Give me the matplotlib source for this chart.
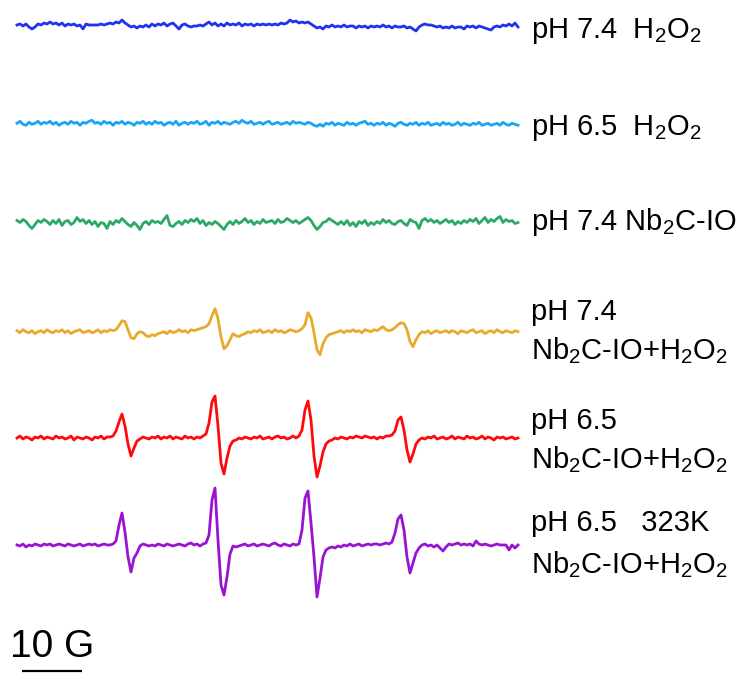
import numpy as np
import matplotlib
matplotlib.use('Agg')
import matplotlib.pyplot as plt

plt.rcParams['font.family'] = ['Liberation Sans', 'DejaVu Sans']
plt.rcParams['mathtext.fontset'] = 'custom'
plt.rcParams['mathtext.rm'] = 'Liberation Sans'
plt.rcParams['mathtext.it'] = 'Liberation Sans:italic'

# magnetic field sweep (G), 0.5 G per point
field = 3470.0 + 0.5 * np.arange(168)

# DMPO spin-trap EPR spectra (a.u.), one list per sample
epr_ph74_h2o2 = [
    0, 1, -1, 1, -2, -4, -2, 1, 0, 2, 1, 3, 1, 2, 0, 2, -1, 1, 0, 1, -1, 0, -4, 1,
    0, 0, 0, 0, 1, 0, 1, 2, 1, 3, 2, 5, 2, 0, -2, -1, -3, -1, -2, 0, -2, 1, -1, 1,
    0, 2, -1, 1, 2, -1, -4, 0, 1, -1, -2, -1, -1, 0, -1, 1, 3, 0, 2, -1, 1, -1, 2, 0,
    1, 0, 2, -1, 1, 0, 1, -1, 1, 0, 1, 0, 1, 0, 1, 0, 2, 1, 2, 5, 3, 4, 2, 3,
    2, 3, 1, -1, -3, -2, -4, -1, -2, 0, -2, -1, -2, 0, -2, -1, -1, -3, -1, -2, -1, -3, -1, -2,
    -1, -2, 0, -2, -1, -3, -1, -2, -2, -1, -3, -2, -4, -6, -2, 0, 1, 0, 0, -1, -2, -1, -3, -2,
    -3, -1, -3, -2, -2, -4, -1, -2, -1, -3, -1, -2, -3, -4, -5, -2, -1, -2, 0, -1, 1, -1, 2, -2,
]
epr_ph65_h2o2 = [
    0, 2, -1, -2, 1, -1, 0, 2, -1, 1, 0, 2, -1, 1, -2, 0, 1, -1, 2, 0, 1, -2, 1, 0,
    2, 3, 0, 1, -1, 2, 0, 1, -2, 1, 0, 2, -1, 1, 0, -2, 1, 0, 2, -1, 1, -1, 2, 0,
    1, -2, 0, 1, -1, 2, -2, 0, 1, -1, 1, 0, 2, -1, 0, 2, -2, 1, 0, 2, -1, 1, 0, -1,
    1, 2, 0, 3, 1, 0, 2, -1, 0, 1, -1, 1, 2, -1, 0, 1, -1, 0, 1, -1, 2, 0, 1, 0,
    -1, 1, 0, -2, -3, -1, -3, 0, -1, 1, -2, 0, -1, -2, 1, -1, 0, -2, 0, 1, 2, -1, 0, -2,
    0, -1, 1, -2, 0, -1, -3, 0, 1, -1, -2, 0, -1, 1, -2, 0, -1, 1, -2, -1, 0, -2, 1, -1,
    0, -2, -1, 1, -2, 0, -1, -2, 0, -1, 1, -2, -1, 0, -2, -1, 0, -2, 1, -1, -2, 0, -1, -2,
]
epr_ph74_nb2c = [
    3, 1, 4, 2, -2, -5, -1, 3, 1, 4, 2, -1, 3, 0, 4, -2, 2, 3, -1, 1, 6, 2, 4, 0,
    3, -1, 2, -3, 1, 0, -5, 2, -1, 3, 1, 5, 2, -1, -3, 1, -2, -6, 0, 2, -1, 3, 1, 2,
    0, 4, 8, -2, -3, 0, 2, -1, 3, 1, 4, 2, 5, 0, 3, -2, 1, -1, 2, 0, -3, -6, -1, 2,
    -1, 3, 0, 2, 5, 1, 3, -1, 2, 0, 4, 1, 2, 3, 0, 4, 1, 2, 5, 3, 1, 3, 0, 2,
    4, 6, 3, -2, -6, -3, 1, 2, 5, 3, 1, -1, 2, -1, 3, -2, 1, -3, 2, 0, 3, -2, 1, -1,
    2, 0, 4, 1, 3, 0, -1, 2, 3, 0, -2, 4, 2, 1, -5, 3, 5, 2, 4, 1, 3, 0, 2, 4,
    1, 3, -1, 2, 0, 3, 1, 4, 2, 5, 0, 3, 6, 1, 4, 2, 5, 7, 1, 4, 2, 3, 0, 1,
]
epr_ph74_nb2c_h2o2 = [
    1, -1, 2, 0, -1, 1, -2, 0, 1, -1, 2, 0, -1, 1, 0, 2, -1, 1, -2, 0, 1, 2, -1, 0,
    1, -1, 0, 2, -1, 1, 0, 2, 1, 2, 6, 11, 10, 2, -6, -7, -2, 0, -1, -4, -5, -3, -4, -2,
    -1, 0, -2, 1, -1, 0, 2, 0, 1, -1, 2, 1, 2, 3, 4, 5, 8, 16, 23, 13, -5, -17, -14, -8,
    -2, -4, -5, -3, -2, 0, -1, 1, 0, 2, -1, 0, 1, -1, 2, 0, 1, -1, 0, 2, 1, 0, 1, 3,
    7, 19, 14, -1, -18, -23, -12, -6, -3, -2, -1, 0, 1, -1, 1, 0, 2, 0, 1, -1, 2, 1, 0, 2,
    1, 3, 5, 2, 1, 2, 4, 7, 9, 8, 2, -10, -15, -8, -3, 0, -1, 1, -2, 0, 1, -1, 0, 1,
    -1, 1, 0, -2, 1, 0, -1, 1, 2, -1, 0, 1, -2, 0, 1, -1, 2, 0, -1, 1, 0, -1, 1, 0,
]
epr_ph65_nb2c_h2o2 = [
    0, 2, -1, 1, 0, -2, 1, 0, 2, -1, 1, 0, -1, 2, 0, 1, -1, 0, 2, -2, 1, 0, -1, 1,
    0, -2, 1, 0, 2, -1, 1, 1, 2, 7, 16, 24, 12, -6, -18, -10, -3, -1, 1, 0, -1, 1, 0, 2,
    -1, 1, 0, 2, -1, 1, 0, -1, 2, 0, 1, -1, 1, 0, 2, 4, 15, 36, 42, 12, -25, -36, -20, -8,
    -3, -2, 0, -1, 1, 0, -1, 1, 0, 2, -1, 0, 1, -1, 1, 2, 0, 1, -1, 0, 2, 0, 2, 8,
    28, 37, 18, -18, -39, -28, -14, -6, -3, -2, 0, -1, 1, 0, -1, 1, 0, 2, 1, 0, 2, 1, 0, 1,
    -1, 1, 0, 2, 2, 3, 7, 18, 21, 8, -12, -24, -16, -6, -2, 0, -1, 1, 0, 2, -1, 0, 1, -1,
    0, 2, -1, 1, 0, -1, 2, 0, 1, -1, 0, 2, -1, 1, 0, -2, 1, 0, 1, -1, 0, 1, -1, 0,
]
epr_ph65_323k = [
    0, -1, 1, -2, 0, -1, 1, 0, -1, 1, 0, 1, -1, 0, 1, 0, -1, 1, 0, -1, 0, 1, -1, 0,
    1, 0, 1, -1, 0, 1, 0, 0, 1, 4, 20, 32, 13, -12, -27, -13, -8, -1, 1, 0, -1, 0, -1, 1,
    0, -1, 1, 0, -1, 0, 1, 0, -1, 1, 2, 0, 1, -1, 1, 2, 10, 45, 57, 5, -40, -50, -32, -9,
    -1, -2, -1, 0, 1, -1, 0, 1, -1, 0, 1, 0, -1, 1, 2, 0, -1, 1, 0, -1, 1, 0, 1, 15,
    47, 54, 22, -12, -52, -33, -12, -5, -3, -2, -3, -1, -2, 0, -1, 1, -1, 0, 1, -1, 0, 1, 0, 1,
    1, 0, 1, 2, 1, 3, 12, 26, 30, 15, -12, -28, -18, -8, -3, 0, 1, -1, 0, -2, 0, -3, -6, -2,
    1, 0, 1, 2, 0, 1, 0, 1, -1, 4, 1, 0, 1, 0, -1, 0, 1, 0, 0, 0, -5, 0, -3, 0,
]

spectra = [epr_ph74_h2o2, epr_ph65_h2o2, epr_ph74_nb2c,
           epr_ph74_nb2c_h2o2, epr_ph65_nb2c_h2o2, epr_ph65_323k]
colors = ['#1e32f0', '#18a6f4', '#2ea866', '#e9aa2c', '#ff0a0a', '#9a12d2']
offsets = [648, 549.7, 449.5, 341.3, 235, 128]

labels = [
    ['pH 7.4  H$_2$O$_2$'],
    ['pH 6.5  H$_2$O$_2$'],
    ['pH 7.4 Nb$_2$C-IO'],
    ['pH 7.4', 'Nb$_2$C-IO+H$_2$O$_2$'],
    ['pH 6.5', 'Nb$_2$C-IO+H$_2$O$_2$'],
    ['pH 6.5   323K', 'Nb$_2$C-IO+H$_2$O$_2$'],
]
label_y = [[635], [538], [443], [353, 314], [244, 205], [142, 100]]

fig = plt.figure(figsize=(7.42, 6.73), dpi=100)
ax = fig.add_axes([0, 0, 1, 1])
x0 = 3470.0 - 17 / 6.0
ax.set_xlim(x0, x0 + 742 / 6.0)
ax.set_ylim(0, 673)
ax.axis('off')

for spec, color, off in zip(spectra, colors, offsets):
    ax.plot(field, off + np.array(spec), color=color, linewidth=2.0,
            solid_joinstyle='round')

label_x = x0 + 531 / 6.0
for lines, ys in zip(labels, label_y):
    for text, y in zip(lines, ys):
        ax.text(label_x, y, text, fontsize=21, color='black',
                ha='left', va='baseline')

# 10 G scale bar
ax.plot([x0 + 22 / 6.0, x0 + 22 / 6.0 + 10], [2, 2], color='black',
        linewidth=1.6, solid_capstyle='butt')
ax.text(x0 + 52 / 6.0, 16, '10 G', fontsize=28, ha='center', va='baseline')

fig.savefig('out.png', dpi=100)
